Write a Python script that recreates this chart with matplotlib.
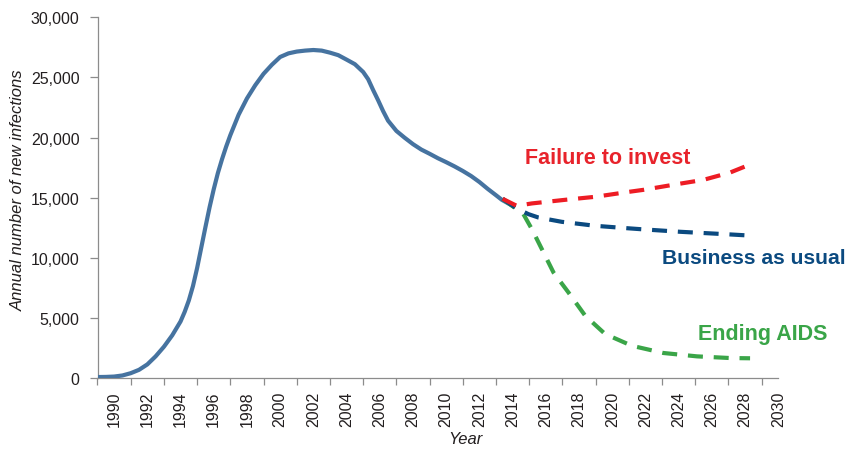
import matplotlib
matplotlib.use("Agg")
import matplotlib.pyplot as plt
from matplotlib import font_manager
from matplotlib.ticker import FuncFormatter, FixedLocator

names = {f.name for f in font_manager.fontManager.ttflist}
NARROW = "Liberation Sans Narrow" if "Liberation Sans Narrow" in names else "Liberation Sans"
MAIN = "Liberation Sans"

# ---- data ----
hist_years = [1989.0, 1989.5, 1990.0, 1990.5, 1991.0, 1991.5, 1992.0, 1992.5, 1993.0,
              1993.5, 1994.0, 1994.25, 1994.5, 1994.75, 1995.0, 1995.25, 1995.5, 1995.75,
              1996.0, 1996.25, 1996.5, 1996.75, 1997.0, 1997.5, 1998.0, 1998.5,
              1999.0, 1999.5, 2000.0, 2000.5, 2001.0, 2001.5, 2002.0, 2002.5,
              2003.0, 2003.5, 2004.0, 2004.5, 2005.0, 2005.3, 2005.6, 2005.9,
              2006.2, 2006.5, 2007.0, 2007.5, 2008.0, 2008.5, 2009.0, 2009.5,
              2010.0, 2010.5, 2011.0, 2011.5, 2012.0, 2012.5, 2013.0, 2013.35, 2014.15]
hist_values = [80, 90, 120, 210, 400, 680, 1130, 1800, 2600,
               3550, 4700, 5500, 6450, 7650, 9150, 10850, 12550, 14200,
               15700, 17050, 18200, 19250, 20200, 21900, 23250, 24350,
               25300, 26050, 26700, 27000, 27150, 27230, 27280, 27230,
               27060, 26850, 26480, 26100, 25450, 24850, 23950, 23100,
               22200, 21400, 20550, 19980, 19450, 19000, 18650, 18280,
               17950, 17600, 17220, 16800, 16300, 15730, 15200, 14820, 14200]

fail_years = [2013.4, 2014.25, 2015.16, 2017.16, 2018.97, 2020.98, 2021.88, 2023.89,
              2025.49, 2027.1, 2028.5]
fail_values = [14900, 14320, 14520, 14820, 15070, 15480, 15650, 16120,
               16480, 17090, 17870]

bau_years = [2013.4, 2014.25, 2014.95, 2015.55, 2016.96, 2018.97, 2020.78, 2021.68,
             2024.1, 2027.1, 2028.5]
bau_values = [14900, 14100, 13630, 13350, 12990, 12660, 12470, 12380,
              12160, 11940, 11830]

end_years = [2013.4, 2014.65, 2015.16, 2015.76, 2016.46, 2017.36, 2018.37, 2019.57,
             2021.18, 2023.08, 2025.1, 2027.1, 2028.3]
end_values = [14900, 13630, 12380, 10720, 8780, 7120, 5180, 3660,
              2680, 2080, 1800, 1660, 1640]

xtick_labels = list(range(1990, 2031, 2))
ytick_values = [0, 5000, 10000, 15000, 20000, 25000, 30000]

scenario_names = ["Failure to invest", "Business as usual", "Ending AIDS"]

# ---- style ----
C_HIST = "#4673a0"
C_FAIL = "#ed1c24"
C_BAU = "#0b4a80"
C_END = "#3aa548"
C_TXT = "#231f20"
C_AX = "#8c8c8c"

W, H = 847, 452
fig = plt.figure(figsize=(W / 100, H / 100), dpi=100)
ax = fig.add_axes([97.5 / W, 1 - 379 / H, (778.3 - 97.5) / W, (379 - 18.3) / H])

ax.plot(hist_years, hist_values, color=C_HIST, lw=3.0, solid_capstyle="butt",
        solid_joinstyle="round", zorder=3)
dash = (3.6, 2.6)
ax.plot(end_years, end_values, color=C_END, lw=3.0, dashes=dash, zorder=4)
ax.plot(bau_years, bau_values, color=C_BAU, lw=3.0, dashes=dash, zorder=5)
ax.plot(fail_years, fail_values, color=C_FAIL, lw=3.0, dashes=dash, zorder=6)

ax.set_xlim(1989, 2030)
ax.set_ylim(0, 30000)

for s in ["top", "right"]:
    ax.spines[s].set_visible(False)
for s in ["left", "bottom"]:
    ax.spines[s].set_color(C_AX)
    ax.spines[s].set_linewidth(0.9)

# major ticks at odd years (marks only), labels at even years (no marks)
ax.xaxis.set_major_locator(FixedLocator(list(range(1989, 2030, 2))))
ax.xaxis.set_minor_locator(FixedLocator(xtick_labels))
ax.xaxis.set_major_formatter(FuncFormatter(lambda v, p: ""))
ax.xaxis.set_minor_formatter(FuncFormatter(lambda v, p: f"{int(round(v))}"))
ax.tick_params(axis="x", which="major", direction="out", length=5, width=0.9, color=C_AX)
ax.tick_params(axis="x", which="minor", length=0, pad=9, labelrotation=90,
               labelsize=11.5, labelcolor=C_TXT)
for lab in ax.xaxis.get_minorticklabels():
    lab.set_fontfamily(NARROW)

ax.set_yticks(ytick_values)
ax.yaxis.set_major_formatter(FuncFormatter(lambda v, p: f"{int(v):,}"))
ax.tick_params(axis="y", direction="out", length=6, width=0.9, color=C_AX,
               labelsize=11.5, labelcolor=C_TXT, pad=7)
for lab in ax.get_yticklabels():
    lab.set_fontfamily(NARROW)

fig.text(465 / W, 1 - 440 / H, "Year", fontsize=12, style="italic", family=MAIN,
         color=C_TXT, ha="center", va="center")
fig.text(18 / W, 1 - 190 / H, "Annual number of new infections", fontsize=12,
         style="italic", family=MAIN, color=C_TXT, ha="center", va="center",
         rotation=90)

ax.text(2014.75, 18370, scenario_names[0], color="#e8232b", fontsize=15.5,
        fontweight="bold", family=MAIN, ha="left", va="center")
ax.text(2023.0, 10050, scenario_names[1], color=C_BAU, fontsize=15.2,
        fontweight="bold", family=MAIN, ha="left", va="center")
ax.text(2025.17, 3660, scenario_names[2], color=C_END, fontsize=15.5,
        fontweight="bold", family=MAIN, ha="left", va="center")

fig.savefig("out.png", dpi=100)
